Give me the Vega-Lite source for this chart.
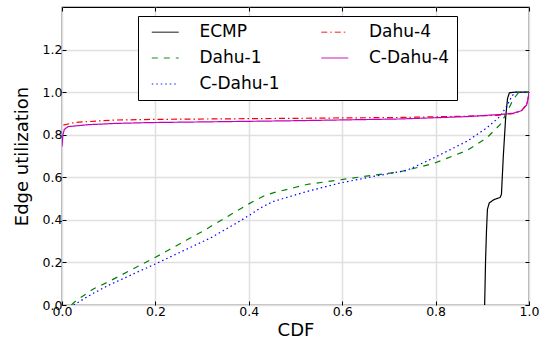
{
  "$schema": "https://vega.github.io/schema/vega-lite/v6.json",
  "width": 467,
  "height": 298,
  "autosize": {"type": "none"},
  "padding": {"left": 62, "top": 7, "right": 13, "bottom": 36},
  "config": {
    "font": "DejaVu Sans",
    "view": {"stroke": "black", "strokeWidth": 1.2},
    "axis": {
      "labelFont": "DejaVu Sans",
      "titleFont": "DejaVu Sans",
      "labelFontSize": 12.5,
      "titleFontSize": 18,
      "titleFontWeight": "normal",
      "labelColor": "black",
      "titleColor": "black",
      "labelFlush": false,
      "labelOverlap": false,
      "domain": false,
      "tickColor": "black",
      "tickSize": -4,
      "gridColor": "#e0e0e0",
      "gridWidth": 1.5
    }
  },
  "data": {
    "values": [
      {"s": "ECMP", "cdf": 0.905, "u": 0.0},
      {"s": "ECMP", "cdf": 0.906, "u": 0.1},
      {"s": "ECMP", "cdf": 0.907, "u": 0.21},
      {"s": "ECMP", "cdf": 0.909, "u": 0.35},
      {"s": "ECMP", "cdf": 0.911, "u": 0.45},
      {"s": "ECMP", "cdf": 0.915, "u": 0.48},
      {"s": "ECMP", "cdf": 0.925, "u": 0.495},
      {"s": "ECMP", "cdf": 0.938, "u": 0.505},
      {"s": "ECMP", "cdf": 0.941, "u": 0.52},
      {"s": "ECMP", "cdf": 0.945, "u": 0.7},
      {"s": "ECMP", "cdf": 0.950, "u": 0.88},
      {"s": "ECMP", "cdf": 0.954, "u": 0.97},
      {"s": "ECMP", "cdf": 0.958, "u": 0.997},
      {"s": "ECMP", "cdf": 0.97, "u": 1.0},
      {"s": "ECMP", "cdf": 1.0, "u": 1.0},

      {"s": "Dahu-1", "cdf": 0.02, "u": 0.0},
      {"s": "Dahu-1", "cdf": 0.03, "u": 0.02},
      {"s": "Dahu-1", "cdf": 0.067, "u": 0.075},
      {"s": "Dahu-1", "cdf": 0.1, "u": 0.11},
      {"s": "Dahu-1", "cdf": 0.2, "u": 0.224},
      {"s": "Dahu-1", "cdf": 0.267, "u": 0.305},
      {"s": "Dahu-1", "cdf": 0.3, "u": 0.345},
      {"s": "Dahu-1", "cdf": 0.35, "u": 0.41},
      {"s": "Dahu-1", "cdf": 0.4, "u": 0.475},
      {"s": "Dahu-1", "cdf": 0.43, "u": 0.51},
      {"s": "Dahu-1", "cdf": 0.452, "u": 0.527},
      {"s": "Dahu-1", "cdf": 0.5, "u": 0.553},
      {"s": "Dahu-1", "cdf": 0.524, "u": 0.566},
      {"s": "Dahu-1", "cdf": 0.595, "u": 0.588},
      {"s": "Dahu-1", "cdf": 0.667, "u": 0.61},
      {"s": "Dahu-1", "cdf": 0.724, "u": 0.626},
      {"s": "Dahu-1", "cdf": 0.795, "u": 0.664},
      {"s": "Dahu-1", "cdf": 0.867, "u": 0.726},
      {"s": "Dahu-1", "cdf": 0.909, "u": 0.784},
      {"s": "Dahu-1", "cdf": 0.938, "u": 0.847},
      {"s": "Dahu-1", "cdf": 0.952, "u": 0.902},
      {"s": "Dahu-1", "cdf": 0.966, "u": 0.965},
      {"s": "Dahu-1", "cdf": 0.977, "u": 0.996},
      {"s": "Dahu-1", "cdf": 1.0, "u": 1.0},

      {"s": "C-Dahu-1", "cdf": 0.025, "u": 0.0},
      {"s": "C-Dahu-1", "cdf": 0.067, "u": 0.055},
      {"s": "C-Dahu-1", "cdf": 0.1, "u": 0.093},
      {"s": "C-Dahu-1", "cdf": 0.2, "u": 0.193},
      {"s": "C-Dahu-1", "cdf": 0.317, "u": 0.314},
      {"s": "C-Dahu-1", "cdf": 0.37, "u": 0.38},
      {"s": "C-Dahu-1", "cdf": 0.403, "u": 0.424},
      {"s": "C-Dahu-1", "cdf": 0.424, "u": 0.455},
      {"s": "C-Dahu-1", "cdf": 0.452, "u": 0.486},
      {"s": "C-Dahu-1", "cdf": 0.524, "u": 0.533},
      {"s": "C-Dahu-1", "cdf": 0.595, "u": 0.573},
      {"s": "C-Dahu-1", "cdf": 0.667, "u": 0.604},
      {"s": "C-Dahu-1", "cdf": 0.738, "u": 0.632},
      {"s": "C-Dahu-1", "cdf": 0.795, "u": 0.69},
      {"s": "C-Dahu-1", "cdf": 0.867, "u": 0.769},
      {"s": "C-Dahu-1", "cdf": 0.909, "u": 0.831},
      {"s": "C-Dahu-1", "cdf": 0.938, "u": 0.886},
      {"s": "C-Dahu-1", "cdf": 0.952, "u": 0.933},
      {"s": "C-Dahu-1", "cdf": 0.963, "u": 0.98},
      {"s": "C-Dahu-1", "cdf": 0.97, "u": 0.999},
      {"s": "C-Dahu-1", "cdf": 1.0, "u": 1.0},

      {"s": "Dahu-4", "cdf": 0.003, "u": 0.845},
      {"s": "Dahu-4", "cdf": 0.028, "u": 0.858},
      {"s": "Dahu-4", "cdf": 0.113, "u": 0.869},
      {"s": "Dahu-4", "cdf": 0.2, "u": 0.872},
      {"s": "Dahu-4", "cdf": 0.5, "u": 0.877},
      {"s": "Dahu-4", "cdf": 0.724, "u": 0.881},
      {"s": "Dahu-4", "cdf": 0.867, "u": 0.887},
      {"s": "Dahu-4", "cdf": 0.938, "u": 0.892},
      {"s": "Dahu-4", "cdf": 0.97, "u": 0.9},
      {"s": "Dahu-4", "cdf": 0.985, "u": 0.915},
      {"s": "Dahu-4", "cdf": 0.995, "u": 0.945},
      {"s": "Dahu-4", "cdf": 0.999, "u": 0.98},
      {"s": "Dahu-4", "cdf": 1.0, "u": 1.0},

      {"s": "C-Dahu-4", "cdf": 0.0, "u": 0.745},
      {"s": "C-Dahu-4", "cdf": 0.002, "u": 0.8},
      {"s": "C-Dahu-4", "cdf": 0.005, "u": 0.825},
      {"s": "C-Dahu-4", "cdf": 0.013, "u": 0.838},
      {"s": "C-Dahu-4", "cdf": 0.056, "u": 0.847},
      {"s": "C-Dahu-4", "cdf": 0.113, "u": 0.853},
      {"s": "C-Dahu-4", "cdf": 0.188, "u": 0.857},
      {"s": "C-Dahu-4", "cdf": 0.403, "u": 0.863},
      {"s": "C-Dahu-4", "cdf": 0.506, "u": 0.866},
      {"s": "C-Dahu-4", "cdf": 0.724, "u": 0.874},
      {"s": "C-Dahu-4", "cdf": 0.867, "u": 0.885},
      {"s": "C-Dahu-4", "cdf": 0.938, "u": 0.895},
      {"s": "C-Dahu-4", "cdf": 0.966, "u": 0.901},
      {"s": "C-Dahu-4", "cdf": 0.984, "u": 0.913},
      {"s": "C-Dahu-4", "cdf": 0.995, "u": 0.94},
      {"s": "C-Dahu-4", "cdf": 0.998, "u": 0.97},
      {"s": "C-Dahu-4", "cdf": 1.0, "u": 1.0}
    ]
  },
  "layer": [
    {
      "mark": {"type": "line", "strokeWidth": 1.2, "clip": true},
      "encoding": {
        "x": {
          "field": "cdf", "type": "quantitative",
          "scale": {"domain": [0, 1], "nice": false, "zero": false},
          "axis": {"title": "CDF", "values": [0, 0.2, 0.4, 0.6, 0.8, 1.0], "format": ".1f", "labelPadding": 4, "titlePadding": 4}
        },
        "y": {
          "field": "u", "type": "quantitative",
          "scale": {"domain": [0, 1.4], "nice": false},
          "axis": {"title": "Edge utilization", "values": [0, 0.2, 0.4, 0.6, 0.8, 1.0, 1.2], "format": ".1f", "labelPadding": 4, "titlePadding": 11}
        },
        "order": {"field": "cdf", "type": "quantitative"},
        "color": {
          "field": "s", "type": "nominal",
          "scale": {
            "domain": ["ECMP", "Dahu-1", "C-Dahu-1", "Dahu-4", "C-Dahu-4"],
            "range": ["#000000", "#008000", "#0000ff", "#ff0000", "#bf00bf"]
          },
          "legend": {
            "title": null,
            "orient": "none",
            "legendX": 76,
            "legendY": 9,
            "columns": 2,
            "columnPadding": 34.5,
            "rowPadding": 8,
            "padding": 7.5,
            "strokeColor": "black",
            "fillColor": "white",
            "cornerRadius": 0,
            "labelFont": "DejaVu Sans",
            "labelFontSize": 17,
            "labelColor": "black",
            "labelOffset": 37,
            "symbolType": "M-0.33,0L3.67,0",
            "symbolSize": 182,
            "symbolStrokeWidth": 1.3,
            "symbolOpacity": 0.6
          }
        },
        "strokeDash": {
          "field": "s", "type": "nominal",
          "scale": {
            "domain": ["ECMP", "Dahu-1", "C-Dahu-1", "Dahu-4", "C-Dahu-4"],
            "range": [[1, 0], [6, 6], [1.5, 3], [6, 3, 1.5, 3], [1, 0]]
          },
          "legend": null
        }
      }
    },
    {
      "mark": {"type": "line", "opacity": 0},
      "encoding": {
        "x": {
          "field": "cdf", "type": "quantitative",
          "axis": {"orient": "top", "title": null, "labels": false, "grid": false, "values": [0, 0.2, 0.4, 0.6, 0.8, 1.0]}
        },
        "y": {
          "field": "u", "type": "quantitative",
          "axis": {"orient": "right", "title": null, "labels": false, "grid": false, "values": [0, 0.2, 0.4, 0.6, 0.8, 1.0, 1.2]}
        },
        "detail": {"field": "s"}
      }
    }
  ],
  "resolve": {"axis": {"x": "independent", "y": "independent"}}
}
